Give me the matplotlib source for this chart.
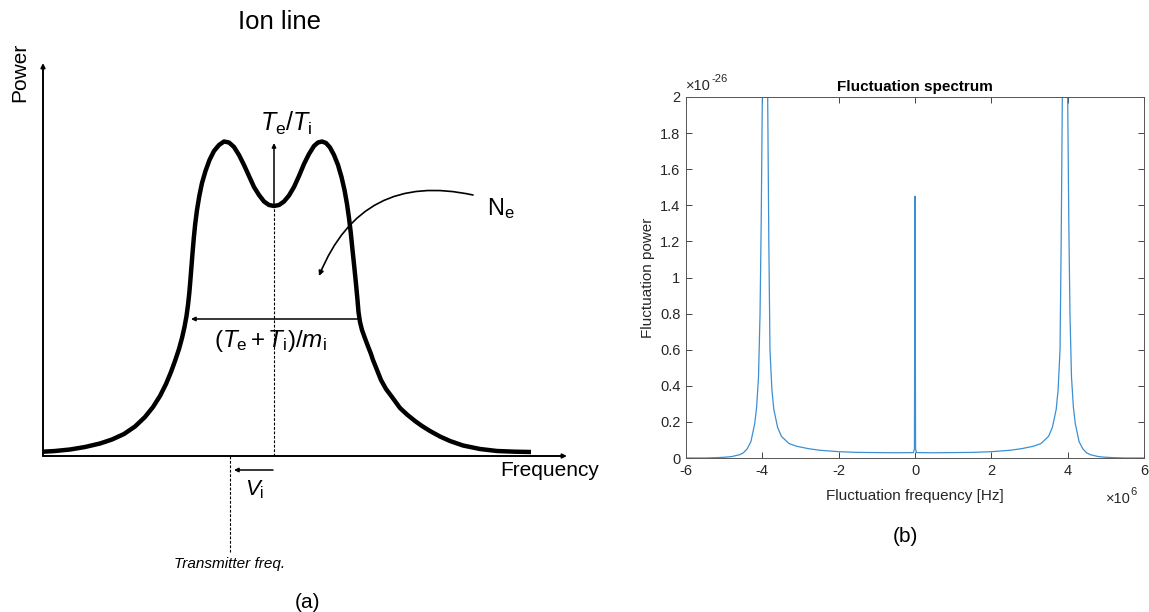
import numpy as np
import matplotlib
matplotlib.use("Agg")
from matplotlib import pyplot as plt

plt.rcParams["font.family"] = ["Liberation Sans", "DejaVu Sans"]
plt.rcParams["mathtext.fontset"] = "custom"
plt.rcParams["mathtext.rm"] = "Liberation Sans"
plt.rcParams["mathtext.it"] = "Liberation Sans:italic"

# (a) schematic ion line, arbitrary units
ion_freq = [-2.31, -2.19, -2.04, -1.89, -1.74, -1.62, -1.50, -1.39, -1.29, -1.21,
            -1.14, -1.08, -1.03, -0.99, -0.95, -0.92, -0.895, -0.875, -0.86, -0.847,
            -0.836, -0.825, -0.814, -0.802, -0.788, -0.77, -0.747, -0.72, -0.685, -0.645,
            -0.60, -0.55, -0.50, -0.45, -0.40, -0.35, -0.30, -0.25, -0.20, -0.15,
            -0.10, -0.05, 0.0, 0.05, 0.10, 0.15, 0.20, 0.25, 0.30, 0.35,
            0.40, 0.44, 0.48, 0.52, 0.56, 0.60, 0.64, 0.675, 0.705, 0.73,
            0.75, 0.768, 0.785, 0.803, 0.82, 0.835, 0.845, 0.86, 0.88, 0.905,
            0.935, 0.97, 0.99, 1.03, 1.07, 1.12, 1.18, 1.26, 1.33, 1.41,
            1.48, 1.56, 1.66, 1.76, 1.89, 2.06, 2.23, 2.41, 2.57]
ion_power = [0.043, 0.05, 0.065, 0.09, 0.125, 0.165, 0.22, 0.295, 0.39, 0.49,
             0.60, 0.72, 0.84, 0.95, 1.07, 1.18, 1.29, 1.40, 1.51, 1.63,
             1.76, 1.90, 2.04, 2.18, 2.32, 2.46, 2.60, 2.73, 2.85, 2.96,
             3.05, 3.11, 3.145, 3.135, 3.09, 3.01, 2.91, 2.80, 2.69, 2.61,
             2.545, 2.51, 2.50, 2.51, 2.545, 2.605, 2.69, 2.80, 2.92, 3.02,
             3.10, 3.135, 3.145, 3.13, 3.085, 3.01, 2.91, 2.79, 2.66, 2.52,
             2.38, 2.23, 2.06, 1.89, 1.72, 1.56, 1.44, 1.34, 1.26, 1.19,
             1.11, 1.02, 0.96, 0.86, 0.76, 0.67, 0.59, 0.48, 0.415, 0.35,
             0.30, 0.25, 0.195, 0.15, 0.105, 0.07, 0.05, 0.043, 0.04]
axis_f = [-2.31, 2.93]
axis_p_top = 3.93
centre_f = 0.0
dip_p = 2.50
peak_p = 3.13
width_p = 1.37
width_f = [0.84, -0.83]
tx_f = -0.44

# (b) fluctuation spectrum, x in 1e6 Hz, y in 1e-26
spec_freq = [-6.0, -5.5, -5.2, -5.0, -4.8, -4.6, -4.5, -4.4, -4.3, -4.2,
             -4.15, -4.1, -4.06, -4.03, -4.0, -3.95, -3.92, -3.86, -3.83, -3.8,
             -3.75, -3.7, -3.6, -3.5, -3.3, -3.1, -2.8, -2.5, -2.0, -1.5,
             -1.0, -0.5, -0.04, -0.015, 0.0, 0.015, 0.04, 0.5, 1.0, 1.5,
             2.0, 2.5, 2.8, 3.1, 3.3, 3.5, 3.6, 3.7, 3.75, 3.8,
             3.83, 3.86, 3.92, 3.95, 4.0, 4.03, 4.06, 4.1, 4.15, 4.2,
             4.3, 4.4, 4.5, 4.6, 4.8, 5.0, 5.2, 5.5, 6.0]
spec_power = [0.0, 0.0, 0.002, 0.004, 0.008, 0.018, 0.028, 0.05, 0.09, 0.19,
              0.28, 0.45, 0.8, 1.3, 2.0, 5.0, 5.0, 2.0, 1.2, 0.6,
              0.38, 0.27, 0.17, 0.12, 0.08, 0.065, 0.052, 0.043, 0.035, 0.031,
              0.03, 0.029, 0.03, 0.05, 1.45, 0.05, 0.03, 0.029, 0.03, 0.031,
              0.035, 0.043, 0.052, 0.065, 0.08, 0.12, 0.17, 0.27, 0.38, 0.6,
              1.2, 2.0, 5.0, 5.0, 2.0, 1.3, 0.8, 0.45, 0.28, 0.19,
              0.09, 0.05, 0.028, 0.018, 0.008, 0.004, 0.002, 0.0, 0.0]
x_ticks = [-6, -4, -2, 0, 2, 4, 6]
y_ticks = [0, 0.2, 0.4, 0.6, 0.8, 1, 1.2, 1.4, 1.6, 1.8, 2]

fig = plt.figure(figsize=(11.49, 6.12), dpi=100)

# ---- panel (a)
ax = fig.add_axes([0, 0, 600 / 1149, 1])
ax.set_xlim(-2.74, 3.26)
ax.set_ylim(-1.56, 4.56)
ax.axis("off")

head = dict(arrowstyle="-|>", color="black", shrinkA=0, shrinkB=0)
ax.annotate("", xy=(axis_f[0], axis_p_top), xytext=(axis_f[0], 0),
            arrowprops=dict(head, lw=1.4, mutation_scale=6))
ax.annotate("", xy=(axis_f[1], 0), xytext=(axis_f[0], 0),
            arrowprops=dict(head, lw=1.4, mutation_scale=6))
ax.plot(ion_freq, ion_power, color="black", lw=3.2, solid_capstyle="butt",
        solid_joinstyle="round")

ax.plot([centre_f, centre_f], [0, dip_p], color="black", lw=0.8, ls=(0, (2.5, 1.5)))
ax.annotate("", xy=(centre_f, peak_p), xytext=(centre_f, dip_p),
            arrowprops=dict(head, lw=1.1, mutation_scale=6))
ax.annotate("", xy=(width_f[1], width_p), xytext=(width_f[0], width_p),
            arrowprops=dict(head, lw=1.1, mutation_scale=6))
ax.plot([tx_f, tx_f], [0, -0.96], color="black", lw=0.8, ls=(0, (2.5, 1.5)))
ax.annotate("", xy=(tx_f + 0.04, -0.14), xytext=(centre_f - 0.01, -0.14),
            arrowprops=dict(head, lw=1.1, mutation_scale=6))
ax.annotate("", xy=(0.45, 1.80), xytext=(1.99, 2.61),
            arrowprops=dict(head, lw=1.2, mutation_scale=7,
                            connectionstyle="arc3,rad=0.42"))

ax.text(0.05, 4.34, "Ion line", fontsize=18.5, ha="center", va="center")
ax.text(-2.54, 3.84, "Power", fontsize=15, rotation=90, ha="center", va="center")
ax.text(2.26, -0.14, "Frequency", fontsize=15, ha="left", va="center")
ax.text(0.12, 3.25, r"$T_{\mathrm{e}}/T_{\mathrm{i}}$", fontsize=18,
        ha="center", va="baseline")
ax.text(-0.04, 1.09, r"$(T_{\mathrm{e}}\,$+$\,T_{\mathrm{i}})/m_{\mathrm{i}}$",
        fontsize=17.5, ha="center", va="baseline")
ax.text(2.13, 2.41, r"N$_{\mathrm{e}}$", fontsize=17, ha="left", va="baseline")
ax.text(-0.29, -0.39, r"$V_{\mathrm{i}}$", fontsize=16, ha="left", va="baseline")
ax.text(tx_f, -1.08, "Transmitter freq.", fontsize=11, style="italic",
        ha="center", va="center")
ax.text(0.33, -1.46, "(a)", fontsize=15, ha="center", va="center")

# ---- panel (b)
grey = "#262626"
bx = fig.add_axes([686 / 1149, 1 - 458 / 612, 458 / 1149, 361 / 612])
bx.plot(spec_freq, spec_power, color="#3b8fd2", lw=0.9)
bx.set_xlim(-6, 6)
bx.set_ylim(0, 2)
bx.set_xticks(x_ticks)
bx.set_xticklabels([str(t) for t in x_ticks])
bx.set_yticks(y_ticks)
bx.set_yticklabels([f"{t:g}" for t in y_ticks])
bx.tick_params(direction="in", length=4, width=0.6, top=True, right=True,
               labelsize=10.5, colors=grey, pad=4)
for s in bx.spines.values():
    s.set_color("#555555")
    s.set_linewidth(0.7)
bx.set_title("Fluctuation spectrum", fontsize=11, fontweight="bold", pad=4)
bx.set_xlabel("Fluctuation frequency [Hz]", fontsize=11, color=grey, labelpad=8)
bx.set_ylabel("Fluctuation power", fontsize=11, color=grey, labelpad=4)
bx.text(0.0, 1.012, "\u00d710", transform=bx.transAxes, fontsize=10.5,
        color=grey, ha="left", va="bottom")
bx.text(0.056, 1.035, "-26", transform=bx.transAxes, fontsize=8,
        color=grey, ha="left", va="bottom")
bx.text(0.972, -0.113, "\u00d710", transform=bx.transAxes, fontsize=10.5,
        color=grey, ha="right", va="center")
bx.text(0.971, -0.095, "6", transform=bx.transAxes, fontsize=8,
        color=grey, ha="left", va="center")
fig.text(905 / 1149, 1 - 536 / 612, "(b)", fontsize=15, ha="center", va="center")

fig.savefig("out.png", dpi=100)
